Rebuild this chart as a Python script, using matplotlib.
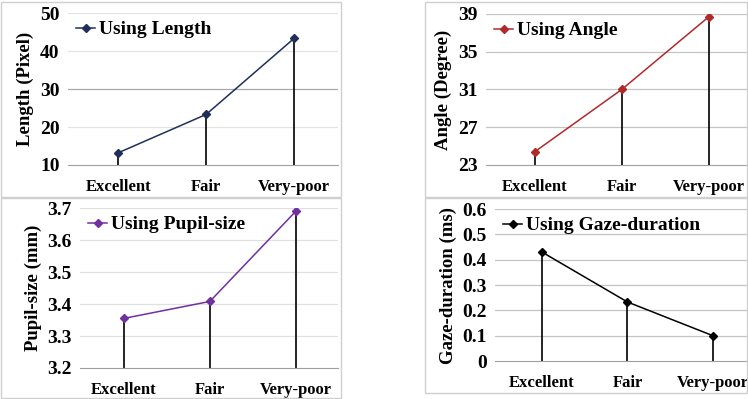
import numpy as np
import matplotlib
matplotlib.use("Agg")
import matplotlib.pyplot as plt
from matplotlib.patches import Rectangle

plt.rcParams['font.family'] = ['Liberation Serif', 'DejaVu Serif']
plt.rcParams['font.weight'] = 'bold'

categories = ["Excellent", "Fair", "Very-poor"]

length_vals = [13.2, 23.3, 43.3]
angle_vals = [24.4, 31.0, 38.7]
pupil_vals = [3.355, 3.408, 3.69]
gaze_vals = [0.43, 0.233, 0.10]

W, H = 748, 399
fig = plt.figure(figsize=(W / 100, H / 100), dpi=100)


def px_axes(left, top, right, bottom):
    return fig.add_axes([left / W, 1 - bottom / H, (right - left) / W, (bottom - top) / H])


def px_box(left, top, right, bottom):
    fig.patches.append(Rectangle((left / W, 1 - bottom / H), (right - left) / W, (bottom - top) / H,
                                 transform=fig.transFigure, fill=False, edgecolor='#cfcfcf', lw=1.0))


def panel(ax, vals, color, label, ylabel, ylim, yticks, ytlabels, gridcol, xlim, dark=None):
    x = np.arange(len(categories))
    ax.set_xlim(*xlim)
    ax.set_ylim(*ylim)
    for t in yticks[1:]:
        c = dark[1] if dark is not None and t == dark[0] else gridcol
        ax.axhline(t, color=c, lw=0.9, zorder=0)
    ax.vlines(x, ylim[0], vals, color='black', lw=1.2, zorder=2)
    ax.plot(x, vals, color=color, lw=1.1, marker='D', markersize=3.8, label=label, zorder=3)
    ax.set_xticks(x)
    ax.set_xticklabels(categories, fontsize=12, fontweight='bold')
    ax.set_yticks(yticks)
    ax.set_yticklabels(ytlabels, fontsize=14, fontweight='bold')
    ax.tick_params(axis='x', length=0, pad=10)
    ax.tick_params(axis='y', length=0, pad=6)
    ax.set_ylabel(ylabel, fontsize=13.5, fontweight='bold', labelpad=4)
    for s in ['top', 'right', 'left']:
        ax.spines[s].set_visible(False)
    ax.spines['bottom'].set_color('#a0a0a0')
    ax.legend(loc='upper left', frameon=False, handlelength=1.0, handletextpad=0.2,
              prop={'size': 14, 'weight': 'bold'}, borderaxespad=0.0)


px_box(1, 2, 341, 197)
px_box(425, 2, 747, 197)
px_box(1, 198, 341, 398)
px_box(425, 198, 747, 393)

ax1 = px_axes(68, 13, 338, 165)
panel(ax1, length_vals, '#1f2f5a', 'Using Length', 'Length (Pixel)', (10, 50),
      [10, 20, 30, 40, 50], ['10', '20', '30', '40', '50'], '#e3e3e3', (-0.57, 2.5),
      dark=(30, '#a8a8a8'))

ax2 = px_axes(486, 14, 747, 165)
panel(ax2, angle_vals, '#b02a2a', 'Using Angle', 'Angle (Degree)', (23, 39),
      [23, 27, 31, 35, 39], ['23', '27', '31', '35', '39'], '#c4c4c4', (-0.56, 2.44))

ax3 = px_axes(80, 208, 338, 368)
panel(ax3, pupil_vals, '#7030a0', 'Using Pupil-size', 'Pupil-size (mm)', (3.2, 3.7),
      [3.2, 3.3, 3.4, 3.5, 3.6, 3.7], ['3.2', '3.3', '3.4', '3.5', '3.6', '3.7'], '#e0e0e0',
      (-0.51, 2.49))

ax4 = px_axes(495, 209, 747, 361)
panel(ax4, gaze_vals, 'black', 'Using Gaze-duration', 'Gaze-duration (ms)', (0, 0.6),
      [0, 0.1, 0.2, 0.3, 0.4, 0.5, 0.6], ['0', '0.1', '0.2', '0.3', '0.4', '0.5', '0.6'], '#c4c4c4',
      (-0.55, 2.4))

fig.savefig('out.png', dpi=100)
